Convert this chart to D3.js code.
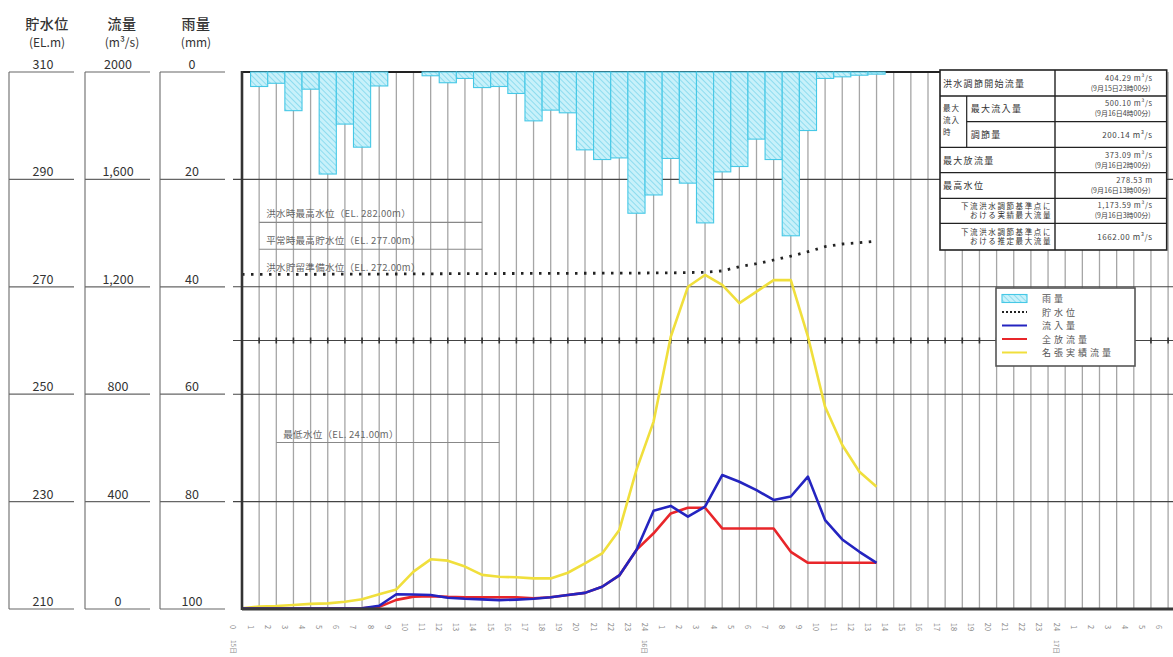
<!DOCTYPE html>
<html><head><meta charset="utf-8">
<script src="https://cdn.jsdelivr.net/npm/d3@7"></script>
<style>
body{margin:0;background:#fff}
text{font-family:"Noto Sans CJK JP","Noto Sans",sans-serif}
</style>
</head><body>
<svg id="c" width="1173" height="657"></svg>
<script>
// ---------- data ----------
const hours = d3.range(0, 38);
const rain = [0, 2.7, 2.1, 7.2, 3.2, 19.0, 9.7, 14.0, 2.6, 0, 0, 0.7, 2.0, 1.2, 2.9, 2.7, 4.0, 9.1, 7.1, 7.6,
  14.5, 16.3, 16.0, 26.3, 22.9, 16.1, 20.7, 28.1, 18.6, 17.6, 12.5, 16.3, 30.5, 10.9, 1.2, 0.9, 0.6, 0.4];
const level = [272.30, 272.30, 272.31, 272.32, 272.33, 272.34, 272.35, 272.36, 272.37, 272.38,
  272.40, 272.42, 272.44, 272.45, 272.46, 272.47, 272.48, 272.49, 272.50, 272.51,
  272.52, 272.53, 272.55, 272.56, 272.58, 272.60, 272.65, 272.70, 272.95, 273.74,
  274.30, 274.99, 275.70, 276.54, 277.47, 277.97, 278.21, 278.53];
const inflow = [2, 2, 2, 2, 2, 2, 2, 3, 12, 55, 54, 52, 42, 38, 36, 33, 35, 38, 44, 52,
  60, 83, 125, 220, 366, 384, 344, 381, 499, 474, 443, 406, 419, 493, 331, 259, 213, 172];
const outflow = [2, 2, 2, 2, 2, 2, 2, 3, 8, 34, 46, 48, 45, 44, 44, 44, 44, 40, 44, 52,
  60, 83, 125, 220, 282, 356, 377, 377, 300, 300, 300, 300, 213, 172, 172, 172, 172, 172];
const downstream = [3, 9, 11, 15, 19, 21, 27, 36, 55, 73, 139, 185, 180, 158, 127, 120, 118, 114, 114, 135,
  170, 207, 294, 518, 698, 1014, 1200, 1244, 1207, 1139, 1182, 1225, 1225, 1014, 753, 611, 511, 455];

const levelTicks = [310, 290, 270, 250, 230, 210];
const flowTicks = [2000, 1600, 1200, 800, 400, 0];
const flowTickLabels = ["2000", "1,600", "1,200", "800", "400", "0"];
const rainTicks = [0, 20, 40, 60, 80, 100];
const gridLevels = [290, 270, 260, 250, 230];
const hourTicks = d3.range(0, 55);
const hourLabels = hourTicks.map(k => k === 0 ? "0" : String((k - 1) % 24 + 1));
const dateTicks = [0, 24, 48];
const dateLabels = ["15日", "16日", "17日"];
const legendLabels = ["雨量", "貯水位", "流入量", "全放流量", "名張実績流量"];
const refLabels = ["洪水時最高水位（EL. 282.00m）", "平常時最高貯水位（EL. 277.00m）", "洪水貯留準備水位（EL. 272.00m）", "最低水位（EL. 241.00m）"];
const refLevels = [282, 277, 272, 241];
const tableLeft = [["洪水調節開始流量"], ["最大流入量"], ["調節量"], ["最大放流量"], ["最高水位"],
  ["下流洪水調節基準点に", "おける実績最大流量"], ["下流洪水調節基準点に", "おける推定最大流量"]];
const tableMerged = ["最大", "流入", "時"];
const tableRight = [["404.29 m³/s", "(9月15日23時00分)"], ["500.10 m³/s", "(9月16日4時00分)"], ["200.14 m³/s"],
  ["373.09 m³/s", "(9月16日2時00分)"], ["278.53 m", "(9月16日13時00分)"],
  ["1,173.59 m³/s", "(9月16日3時00分)"], ["1662.00 m³/s"]];

// ---------- layout ----------
const svg = d3.select("#c");
const X0 = 242, STEP = 17.15, TOP = 72, BOT = 609;
const x = d3.scaleLinear().domain([0, 54]).range([X0, X0 + 54 * STEP]);
const yLevel = d3.scaleLinear().domain([210, 310]).range([BOT, TOP]);
const yFlow = d3.scaleLinear().domain([0, 2000]).range([BOT, TOP]);
const yRain = d3.scaleLinear().domain([0, 100]).range([TOP, BOT]);

const defs = svg.append("defs");
const pat = defs.append("pattern").attr("id", "hatch").attr("patternUnits", "userSpaceOnUse")
  .attr("width", 4).attr("height", 4).attr("patternTransform", "rotate(-45)");
pat.append("rect").attr("width", 4).attr("height", 4).attr("fill", "#c8f1fa");
pat.append("line").attr("x1", 0).attr("y1", 0).attr("x2", 0).attr("y2", 4)
  .attr("stroke", "#7ad5ec").attr("stroke-width", 1.5);

// ---------- left axis columns ----------
const cols = [
  {x: 9, title: "貯水位", unit: "(EL.m)", ticks: levelTicks, labels: levelTicks.map(String), s: yLevel, tx: 43},
  {x: 85, title: "流量", unit: "(m³/s)", ticks: flowTicks, labels: flowTickLabels, s: yFlow, tx: 118},
  {x: 160, title: "雨量", unit: "(mm)", ticks: rainTicks, labels: rainTicks.map(String), s: yRain, tx: 192}
];
cols.forEach(c => {
  const g = svg.append("g");
  g.append("line").attr("x1", c.x).attr("x2", c.x).attr("y1", TOP).attr("y2", BOT)
    .attr("stroke", "#777").attr("stroke-width", 1.2);
  g.selectAll("line.t").data(c.ticks).join("line").attr("class", "t")
    .attr("x1", c.x).attr("x2", c.x + 65).attr("y1", d => c.s(d)).attr("y2", d => c.s(d))
    .attr("stroke", "#666").attr("stroke-width", 1.2);
  g.selectAll("text.t").data(c.ticks).join("text").attr("class", "t")
    .attr("x", c.tx).attr("y", d => c.s(d) - 3).attr("text-anchor", "middle")
    .attr("font-size", 12.5).attr("fill", "#333")
    .text((d, i) => c.labels[i]);
  g.append("text").attr("x", c.tx + 4).attr("y", 29).attr("text-anchor", "middle")
    .attr("font-size", 14).attr("font-weight", 500).attr("fill", "#333").attr("letter-spacing", 0.5).text(c.title);
  g.append("text").attr("x", c.tx + 4).attr("y", 47).attr("text-anchor", "middle")
    .attr("font-size", 12).attr("fill", "#333").text(c.unit);
});

// ---------- grid ----------
const grid = svg.append("g");
grid.selectAll("line.v").data(hourTicks.filter(k => k > 0)).join("line").attr("class", "v")
  .attr("x1", d => x(d)).attr("x2", d => x(d)).attr("y1", TOP).attr("y2", BOT)
  .attr("stroke", "#a6a6a6").attr("stroke-width", 1.3);
grid.selectAll("line.h").data(gridLevels).join("line").attr("class", "h")
  .attr("x1", 233).attr("x2", 1173).attr("y1", d => yLevel(d)).attr("y2", d => yLevel(d))
  .attr("stroke", "#444").attr("stroke-width", 1.1);
grid.selectAll("line.cm").data(hourTicks.filter(k => k > 0)).join("line").attr("class", "cm")
  .attr("x1", d => x(d)).attr("x2", d => x(d)).attr("y1", yLevel(260) - 3).attr("y2", yLevel(260) + 3)
  .attr("stroke", "#333").attr("stroke-width", 1.6);

// top border
svg.append("line").attr("x1", X0).attr("x2", 940).attr("y1", TOP).attr("y2", TOP)
  .attr("stroke", "#222").attr("stroke-width", 2.2);

// ---------- reference level annotations ----------
const refG = svg.append("g");
const refX1 = [1, 1, 1, 2], refX2 = [14, 14, 14, 15];
refLabels.forEach((t, i) => {
  refG.append("text").attr("x", x(refX1[i]) + 7).attr("y", yLevel(refLevels[i]) - 5)
    .attr("font-size", 9.5).attr("fill", "#666").attr("letter-spacing", 0.3).text(t);
  if (i !== 2) {
    refG.append("line").attr("x1", x(refX1[i])).attr("x2", x(refX2[i]))
      .attr("y1", yLevel(refLevels[i])).attr("y2", yLevel(refLevels[i]))
      .attr("stroke", "#888").attr("stroke-width", 1.1);
  }
});

// ---------- rain bars ----------
svg.append("g").selectAll("rect").data(hours.filter(k => rain[k] > 0)).join("rect")
  .attr("x", d => x(d) - STEP / 2).attr("width", STEP)
  .attr("y", yRain(0)).attr("height", d => yRain(rain[d]) - yRain(0))
  .attr("fill", "url(#hatch)").attr("stroke", "#46c8e6").attr("stroke-width", 1.1);

// ---------- lines ----------
const mk = (arr, s) => d3.line().x(d => x(d)).y(d => s(arr[d]));
svg.append("path").datum(hours).attr("d", mk(downstream, yFlow))
  .attr("fill", "none").attr("stroke", "#f0df3c").attr("stroke-width", 2.6).attr("stroke-linejoin", "round");
svg.append("path").datum(hours).attr("d", mk(outflow, yFlow))
  .attr("fill", "none").attr("stroke", "#e8262a").attr("stroke-width", 2.6).attr("stroke-linejoin", "round");
svg.append("path").datum(hours).attr("d", mk(inflow, yFlow))
  .attr("fill", "none").attr("stroke", "#2424c0").attr("stroke-width", 2.6).attr("stroke-linejoin", "round");
svg.append("path").datum(hours).attr("d", mk(level, yLevel))
  .attr("fill", "none").attr("stroke", "#222").attr("stroke-width", 2.8).attr("stroke-dasharray", "2.5,6.5");

// left & bottom borders
svg.append("line").attr("x1", X0).attr("x2", X0).attr("y1", TOP - 1).attr("y2", BOT + 1)
  .attr("stroke", "#333").attr("stroke-width", 2.6);
svg.append("line").attr("x1", X0).attr("x2", 1173).attr("y1", BOT).attr("y2", BOT)
  .attr("stroke", "#3a3a3a").attr("stroke-width", 3);

// ---------- hour labels ----------
const hl = svg.append("g");
hl.selectAll("text").data(hourTicks).join("text")
  .attr("transform", d => `translate(${x(d) - 9},627) rotate(90)`)
  .attr("text-anchor", "middle").attr("dy", "0.35em")
  .attr("font-size", 7.5).attr("fill", "#8a8a8a").text((d, i) => hourLabels[i]);
hl.selectAll("text.d").data(dateTicks).join("text").attr("class", "d")
  .attr("transform", d => `translate(${x(d) - 9},640) rotate(90)`)
  .attr("dy", "0.35em").attr("font-size", 6.5).attr("fill", "#8a8a8a")
  .text((d, i) => dateLabels[i]);

// ---------- table ----------
const tb = svg.append("g");
const TL = 940, TM = 966.7, TD = 1055, TR = 1166.7;
const rowY = [70, 96, 121.7, 147.3, 172.7, 198.3, 223.3, 250];
tb.append("rect").attr("x", TL).attr("y", rowY[0]).attr("width", TR - TL).attr("height", rowY[7] - rowY[0])
  .attr("fill", "#fff").attr("stroke", "#222").attr("stroke-width", 1.6);
tb.append("line").attr("x1", TD).attr("x2", TD).attr("y1", rowY[0]).attr("y2", rowY[7]).attr("stroke", "#222").attr("stroke-width", 1.4);
tb.append("line").attr("x1", TM).attr("x2", TM).attr("y1", rowY[1]).attr("y2", rowY[3]).attr("stroke", "#222").attr("stroke-width", 1.2);
rowY.slice(1, 7).forEach((y, i) => {
  tb.append("line").attr("x1", i === 1 ? TM : TL).attr("x2", TR).attr("y1", y).attr("y2", y)
    .attr("stroke", "#222").attr("stroke-width", 1.3);
});
tableMerged.forEach((t, i) => {
  tb.append("text").attr("x", TL + 3).attr("y", rowY[1] + 15 + i * 12).attr("font-size", 7.5)
    .attr("letter-spacing", 1).attr("fill", "#333").text(t);
});
tableLeft.forEach((lines, r) => {
  const cy = (rowY[r] + rowY[r + 1]) / 2;
  if (lines.length === 1) {
    tb.append("text").attr("x", (r === 1 || r === 2) ? TM + 4 : TL + 3).attr("y", cy + 3.5)
      .attr("font-size", 9).attr("letter-spacing", 1.3).attr("fill", "#333").text(lines[0]);
  } else {
    lines.forEach((t, j) => {
      tb.append("text").attr("x", TD - 3).attr("y", cy - 2 + j * 9).attr("text-anchor", "end")
        .attr("font-size", 7.5).attr("letter-spacing", 1.6).attr("fill", "#333").text(t);
    });
  }
});
tableRight.forEach((lines, r) => {
  const cy = (rowY[r] + rowY[r + 1]) / 2;
  if (lines.length === 1) {
    tb.append("text").attr("x", TR - 14).attr("y", cy + 3).attr("text-anchor", "end")
      .attr("font-size", 8).attr("letter-spacing", 0.6).attr("fill", "#444").text(lines[0]);
  } else {
    tb.append("text").attr("x", TR - 14).attr("y", cy - 2.5).attr("text-anchor", "end")
      .attr("font-size", 7.5).attr("letter-spacing", 0.6).attr("fill", "#444").text(lines[0]);
    tb.append("text").attr("x", TR - 16).attr("y", cy + 7.5).attr("text-anchor", "end")
      .attr("font-size", 7).attr("fill", "#444").text(lines[1]);
  }
});

// ---------- legend ----------
const lg = svg.append("g");
lg.append("rect").attr("x", 996).attr("y", 288).attr("width", 139).attr("height", 78)
  .attr("fill", "#fff").attr("stroke", "#555").attr("stroke-width", 1.6);
const legStyles = [
  {type: "rect"},
  {type: "line", stroke: "#222", dash: "2,2"},
  {type: "line", stroke: "#2424c0"},
  {type: "line", stroke: "#e8262a"},
  {type: "line", stroke: "#f0df3c"}
];
legendLabels.forEach((t, i) => {
  const cy = 298.5 + i * 13.5;
  const st = legStyles[i];
  if (st.type === "rect") {
    lg.append("rect").attr("x", 1002).attr("y", cy - 4).attr("width", 25).attr("height", 8)
      .attr("fill", "url(#hatch)").attr("stroke", "#46c8e6").attr("stroke-width", 1.1);
  } else {
    lg.append("line").attr("x1", 1002).attr("x2", 1027).attr("y1", cy).attr("y2", cy)
      .attr("stroke", st.stroke).attr("stroke-width", 2).attr("stroke-dasharray", st.dash || null);
  }
  lg.append("text").attr("x", 1042).attr("y", cy + 3.5).attr("font-size", 9).attr("letter-spacing", 3)
    .attr("fill", "#555").text(t);
});
</script>
</body></html>
